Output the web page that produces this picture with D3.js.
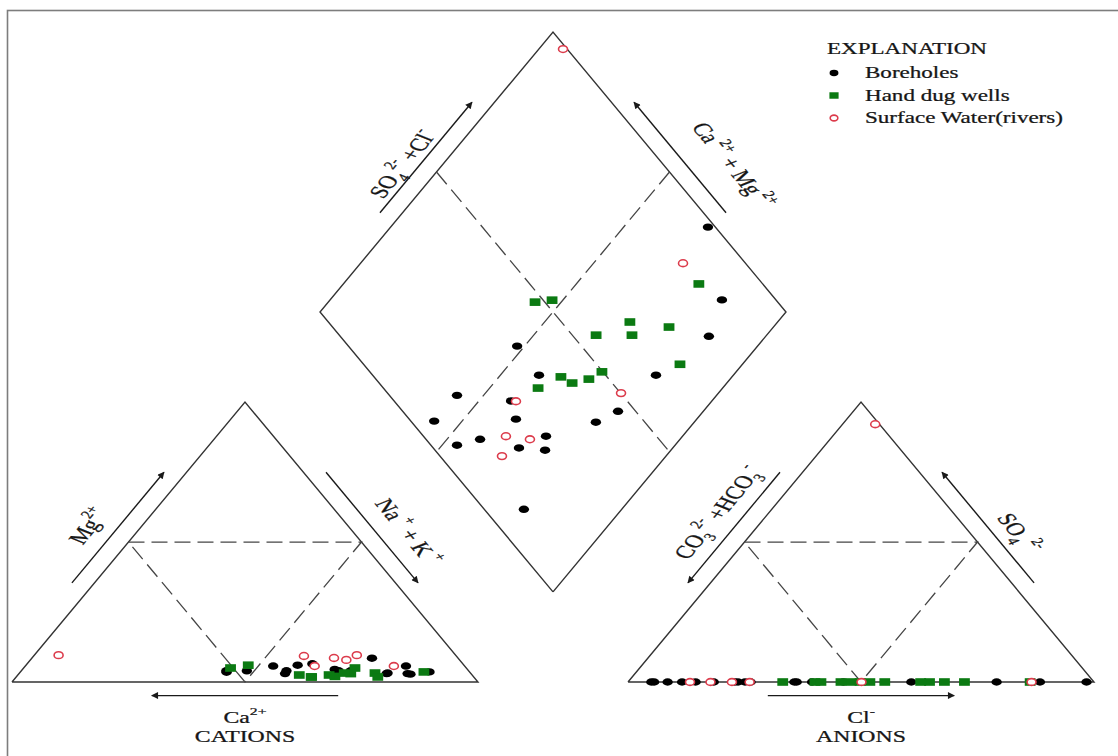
<!DOCTYPE html>
<html>
<head>
<meta charset="utf-8">
<script src="https://cdn.jsdelivr.net/npm/d3@7"></script>
<style>
  body { margin: 0; background: #fff; }
  text { font-family: "Liberation Serif", "Times New Roman", serif; fill: #161616; stroke: #161616; stroke-width: 0.25; white-space: pre; }
</style>
</head>
<body>
<svg id="chart" width="1118" height="756"></svg>
<script>
// Major-ion composition of each sample, percent of total meq/L.
// Cations: [Ca2+, Mg2+, Na+ + K+]   Anions: [CO3 2- + HCO3-, SO4 2-, Cl-]
const boreholeCations = [
  [27.9, 4.0, 68.1], [13.1, 2.8, 84.1], [8.6, 3.6, 87.8], [47.6, 4.0, 48.4],
  [13.6, 3.0, 83.4], [35.7, 6.0, 58.3], [52.2, 3.5, 44.3], [39.1, 4.0, 56.9],
  [52.0, 4.0, 44.0], [32.3, 6.5, 61.2], [18.1, 3.0, 78.9], [12.6, 5.7, 81.7],
  [39.9, 3.0, 57.1], [25.3, 4.0, 70.7], [41.1, 5.7, 53.2], [28.5, 4.5, 67.0],
  [18.5, 8.5, 73.0], [17.8, 3.2, 79.0]
];
const boreholeAnions = [
  [1.6, 0, 98.4], [11.6, 0, 88.4], [20.9, 0, 79.1], [63.8, 0, 36.2],
  [39.2, 0, 60.8], [64.3, 0, 35.7], [85.5, 0, 14.5], [74.9, 0, 25.1],
  [95.0, 0, 5.0], [77.1, 0, 22.9], [60.5, 0, 39.5], [53.8, 0, 46.2],
  [88.4, 0, 11.6], [73.7, 0, 26.3], [94.4, 0, 5.6], [81.6, 0, 18.4],
  [76.4, 0, 23.6], [91.5, 0, 8.5]
];
const wellCations = [
  [20.5, 3.2, 76.3], [50.6, 5.0, 44.4], [46.3, 6.0, 47.7], [29.7, 2.0, 68.3],
  [23.9, 5.0, 71.1], [20.6, 1.8, 77.6], [34.8, 1.8, 63.4], [9.8, 3.6, 86.6],
  [25.8, 3.0, 71.2], [34.9, 1.8, 63.3], [30.7, 2.5, 66.8], [27.1, 3.2, 69.7],
  [37.1, 2.5, 60.4]
];
const wellAnions = [
  [13.7, 0, 86.3], [52.1, 0, 47.9], [48.1, 0, 51.9], [35.3, 0, 64.7],
  [37.2, 0, 62.8], [27.8, 0, 72.2], [44.9, 0, 55.1], [32.1, 0, 67.9],
  [50.2, 0, 49.8], [59.9, 0, 40.1], [58.6, 0, 41.4], [54.3, 0, 45.7],
  [66.8, 0, 33.2]
];
const riverCations = [
  [85.2, 9.6, 5.2], [21.2, 9.6, 69.2], [32.7, 9.3, 58.0], [15.2, 5.7, 79.1],
  [32.2, 5.7, 62.1], [24.3, 7.9, 67.8], [26.6, 8.6, 64.8]
];
const riverAnions = [
  [0.9, 92.1, 7.0], [13.4, 0, 86.6], [73.9, 0, 26.1], [49.9, 0, 50.1],
  [82.3, 0, 17.7], [77.7, 0, 22.3], [86.7, 0, 13.3]
];
const seriesNames = ["Boreholes", "Hand dug wells", "Surface Water(rivers)"];
const legendTitle = "EXPLANATION";

// ---- Piper geometry (unit side length, triangles separated by GAP) ----
const H = Math.sqrt(3) / 2, GAP = 0.322;
const C0 = [0, 0], C1 = [1, 0], C2 = [0.5, H];
const A0 = [1 + GAP, 0], A1 = [2 + GAP, 0], A2 = [1.5 + GAP, H];
const DB = [1 + GAP / 2, GAP * H], DL = [0.5 + GAP / 2, GAP * H + H],
      DR = [1.5 + GAP / 2, GAP * H + H], DT = [1 + GAP / 2, GAP * H + 2 * H];

const x = d3.scaleLinear().domain([0, 2 + GAP]).range([12, 1094]);
const y = d3.scaleLinear().domain([0, (2 + GAP) * H]).range([682, 32]);
// the unit frame is drawn wider than tall; text is widened by the same factor
const TX = (x(1) - x(0)) / (y(0) - y(H)) * H;

const cationXY = ([ca, mg, nak]) => { const t = ca + mg + nak; return [nak / t + mg / t / 2, mg / t * H]; };
const anionXY = ([hc, so4, cl]) => { const t = hc + so4 + cl; return [1 + GAP + cl / t + so4 / t / 2, so4 / t * H]; };
const diamondXY = (cat, an) => {
  const c = (cat[0] + cat[1]) / (cat[0] + cat[1] + cat[2]);
  const s = (an[1] + an[2]) / (an[0] + an[1] + an[2]);
  return [DB[0] + 0.5 * (s - c), DB[1] + H * (c + s)];
};

const svg = d3.select("#chart");
const P = p => [x(p[0]), y(p[1])];
const mid = (a, b) => [(a[0] + b[0]) / 2, (a[1] + b[1]) / 2];
const line = d3.line().x(d => x(d[0])).y(d => y(d[1]));

// outer frame
svg.append("rect").attr("x", 7.5).attr("y", 10.5).attr("width", 1200).attr("height", 800)
  .attr("fill", "none").attr("stroke", "#7d7d7d").attr("stroke-width", 1.6);

// outlines
const outline = svg.append("g").attr("fill", "none").attr("stroke", "#333").attr("stroke-width", 1.4);
[[C0, C1, C2, C0], [A0, A1, A2, A0], [DB, DR, DT, DL, DB]].forEach(poly =>
  outline.append("path").attr("d", line(poly)));

// dashed sub-fields
const dash = svg.append("g").attr("fill", "none").attr("stroke", "#454545")
  .attr("stroke-width", 1.3).attr("stroke-dasharray", "16,7");
[[mid(C0, C2), mid(C1, C2), mid(C0, C1), mid(C0, C2)],
 [mid(A0, A2), mid(A1, A2), mid(A0, A1), mid(A0, A2)],
 [mid(DL, DT), mid(DB, DR)], [mid(DR, DT), mid(DB, DL)]].forEach(p =>
  dash.append("path").attr("d", line(p)));

// arrows along the edges
svg.append("defs").append("marker").attr("id", "head").attr("viewBox", "0 0 10 10")
  .attr("refX", 9).attr("refY", 5).attr("markerWidth", 8).attr("markerHeight", 7)
  .attr("markerUnits", "userSpaceOnUse").attr("orient", "auto")
  .append("path").attr("d", "M0,0 L10,5 L0,10 Z").attr("fill", "#1a1a1a");

function edgeAt(p0, p1, t, normal, off) {
  return [p0[0] + t * (p1[0] - p0[0]) + normal[0] * off, p0[1] + t * (p1[1] - p0[1]) + normal[1] * off];
}
const NL = [-H, 0.5], NR = [H, 0.5], ND = [0, -1];
const OFF = 0.042;
const arrows = [
  [C0, C2, 0.33, 0.725, NL], [C1, C2, 0.725, 0.33, NR], [C0, C1, 0.7, 0.3, ND],
  [DL, DT, 0.33, 0.725, NL], [DR, DT, 0.33, 0.725, NR],
  [A0, A2, 0.725, 0.33, NL], [A1, A2, 0.33, 0.725, NR], [A0, A1, 0.3, 0.7, ND]
];
const ag = svg.append("g").attr("stroke", "#1a1a1a").attr("stroke-width", 1.4);
arrows.forEach(([p0, p1, t0, t1, n]) => {
  const a = P(edgeAt(p0, p1, t0, n, OFF)), b = P(edgeAt(p0, p1, t1, n, OFF));
  ag.append("line").attr("x1", a[0]).attr("y1", a[1]).attr("x2", b[0]).attr("y2", b[1])
    .attr("marker-end", "url(#head)");
});

// rich text helper: segments with sub/superscripts
function rich(g, segs, fs) {
  const t = g.append("text").attr("text-anchor", "middle").attr("font-size", fs);
  let shift = 0;
  segs.forEach(s => {
    const target = s.sup ? -0.5 * fs : s.sub ? 0.3 * fs : 0;
    t.append("tspan").attr("dy", target - shift)
      .attr("font-size", (s.sup || s.sub) ? fs * 0.66 : fs).text(s.t);
    shift = target;
  });
  return t;
}
const SCALE = `scale(${TX.toFixed(4)},1)`;

// labels along the edges: [edge p0, p1, t, normal, offset, angle, segments]
const edgeLabels = [
  [C0, C2, 0.50, NL, 0.095, -60, [{t: "Mg"}, {t: "2+", sup: 1}]],
  [C1, C2, 0.478, NR, 0.099, 60, [{t: "Na"}, {t: " +", sup: 1}, {t: " + K"}, {t: " +", sup: 1}]],
  [DL, DT, 0.484, NL, 0.072, -60, [{t: "SO"}, {t: "4", sub: 1}, {t: "2-", sup: 1}, {t: " +Cl"}, {t: "-", sup: 1}]],
  [DR, DT, 0.45, NR, 0.125, 60, [{t: "Ca"}, {t: " 2+", sup: 1}, {t: " + Mg"}, {t: " 2+", sup: 1}]],
  [A0, A2, 0.55, NL, 0.092, -60, [{t: "CO"}, {t: "3", sub: 1}, {t: "2-", sup: 1}, {t: " +HCO"}, {t: "3", sub: 1}, {t: "-", sup: 1}]],
  [A1, A2, 0.48, NR, 0.088, 60, [{t: "SO"}, {t: "4", sub: 1}, {t: " 2-", sup: 1}]]
];
edgeLabels.forEach(([p0, p1, t, n, off, ang, segs]) => {
  const c = P(edgeAt(p0, p1, t, n, off));
  const g = svg.append("g").attr("transform", `translate(${c[0]},${c[1]}) ${SCALE} rotate(${ang})`);
  rich(g, segs, 18).attr("y", 5);
});

// bottom labels
function bottomLabel(cx, segs, title) {
  const g1 = svg.append("g").attr("transform", `translate(${x(cx)},${y(0) + 41}) ${SCALE}`);
  rich(g1, segs, 16.5);
  const g2 = svg.append("g").attr("transform", `translate(${x(cx)},${y(0) + 60}) ${SCALE}`);
  rich(g2, [{t: title}], 16.5);
}
bottomLabel(0.5, [{t: "Ca"}, {t: "2+", sup: 1}], "CATIONS");
bottomLabel(1.5 + GAP, [{t: "Cl"}, {t: "-", sup: 1}], "ANIONS");

// sample symbols
function drawSymbol(g, kind, cx, cy, k) {
  k = k || 1;
  if (kind === 0) {
    g.append("ellipse").attr("cx", cx).attr("cy", cy).attr("rx", 5.2 * k).attr("ry", 3.7 * k).attr("fill", "#000");
  } else if (kind === 1) {
    g.append("rect").attr("x", cx - 5.4 * k).attr("y", cy - 3.8 * k).attr("width", 10.8 * k).attr("height", 7.6 * k)
      .attr("fill", "#0b7a12");
  } else {
    g.append("ellipse").attr("cx", cx).attr("cy", cy).attr("rx", 4.5 * k).attr("ry", 3.4 * k)
      .attr("fill", "#fff").attr("stroke", "#dc3c4c").attr("stroke-width", 1.6);
  }
}
const groups = [[boreholeCations, boreholeAnions], [wellCations, wellAnions], [riverCations, riverAnions]];
const pts = svg.append("g");
groups.forEach(([cats, ans], kind) => {
  cats.forEach((cat, i) => {
    const an = ans[i];
    [cationXY(cat), anionXY(an), diamondXY(cat, an)].forEach(p => drawSymbol(pts, kind, x(p[0]), y(p[1])));
  });
});

// legend
const lg = svg.append("g");
lg.append("g").attr("transform", `translate(827,54) ${SCALE}`)
  .append("text").attr("font-size", 16).text(legendTitle);
seriesNames.forEach((name, i) => {
  const yy = 73 + i * 22.5;
  drawSymbol(lg, i, 834, yy, 0.85);
  lg.append("g").attr("transform", `translate(865,${yy + 5}) ${SCALE}`)
    .append("text").attr("font-size", 16).text(name);
});
</script>
</body>
</html>
